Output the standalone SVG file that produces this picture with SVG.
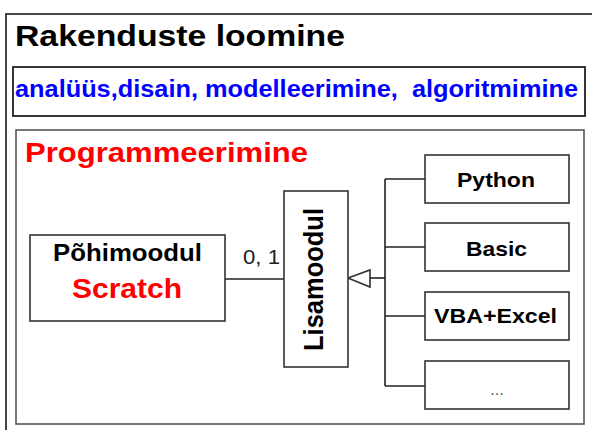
<svg xmlns="http://www.w3.org/2000/svg" width="592" height="430" viewBox="0 0 592 430">
<style>
text{font-family:"Liberation Sans",Arial,sans-serif;font-weight:bold}
text.n{font-weight:normal}
.box{fill:#fff;stroke:#333;stroke-width:1.6}
.ln{fill:none;stroke:#222;stroke-width:1.6}
.c{text-anchor:middle}
</style>
<rect width="592" height="430" fill="#fff"/>
<g id="rakenduste">
<rect x="6" y="14" width="600" height="440" fill="#fff" stroke="#333" stroke-width="1.8"/>
<text x="15" y="46" font-size="30" textLength="330" lengthAdjust="spacingAndGlyphs">Rakenduste loomine</text>
</g>
<g id="analyys">
<rect x="13" y="67" width="572" height="49" fill="#fff" stroke="#222" stroke-width="1.8"/>
<text x="15" y="97" font-size="23" fill="#0000ff" xml:space="preserve" textLength="563" lengthAdjust="spacingAndGlyphs">analüüs,disain, modelleerimine,  algoritmimine</text>
</g>
<g id="programmeerimine">
<rect x="16" y="130" width="568" height="294" fill="#fff" stroke="#555" stroke-width="1.6"/>
<text x="25" y="162" font-size="28" fill="#ff0000" textLength="283" lengthAdjust="spacingAndGlyphs">Programmeerimine</text>
</g>
<g id="connectors">
<line class="ln" x1="225" y1="279" x2="284" y2="279"/>
<polygon points="348,278 370,270 370,287" fill="#fff" stroke="#333" stroke-width="1.6"/>
<line class="ln" x1="370" y1="278" x2="385" y2="278"/>
<line class="ln" x1="385" y1="179" x2="385" y2="386"/>
<line class="ln" x1="385" y1="179" x2="425" y2="179"/>
<line class="ln" x1="385" y1="247" x2="425" y2="247"/>
<line class="ln" x1="385" y1="316" x2="425" y2="316"/>
<line class="ln" x1="385" y1="386" x2="425" y2="386"/>
<text class="n" x="243" y="264" font-size="20" fill="#222" textLength="37" lengthAdjust="spacingAndGlyphs">0, 1</text>
</g>
<g id="pohimoodul">
<rect class="box" x="30" y="235" width="195" height="86"/>
<text x="127.5" y="261" font-size="23" textLength="149" lengthAdjust="spacingAndGlyphs" class="c">Põhimoodul</text>
<text x="127" y="298" font-size="28" fill="#ff0000" textLength="110" lengthAdjust="spacingAndGlyphs" class="c">Scratch</text>
</g>
<g id="lisamoodul">
<rect class="box" x="284" y="191" width="64" height="176"/>
<text transform="translate(323,279.5) rotate(-90)" x="0" y="0" font-size="27" textLength="143" lengthAdjust="spacingAndGlyphs" class="c">Lisamoodul</text>
</g>
<g id="python">
<rect class="box" x="425" y="155" width="144" height="48"/>
<text x="496" y="187" font-size="21" textLength="78" lengthAdjust="spacingAndGlyphs" class="c">Python</text>
</g>
<g id="basic">
<rect class="box" x="425" y="223" width="144" height="48"/>
<text x="496.5" y="256" font-size="21" textLength="61" lengthAdjust="spacingAndGlyphs" class="c">Basic</text>
</g>
<g id="vba">
<rect class="box" x="425" y="292" width="144" height="48"/>
<text x="495.5" y="323" font-size="21" textLength="123" lengthAdjust="spacingAndGlyphs" class="c">VBA+Excel</text>
</g>
<g id="more">
<rect class="box" x="425" y="361" width="144" height="48"/>
<text class="n c" x="497" y="395" font-size="16" fill="#555">...</text>
</g>
</svg>
